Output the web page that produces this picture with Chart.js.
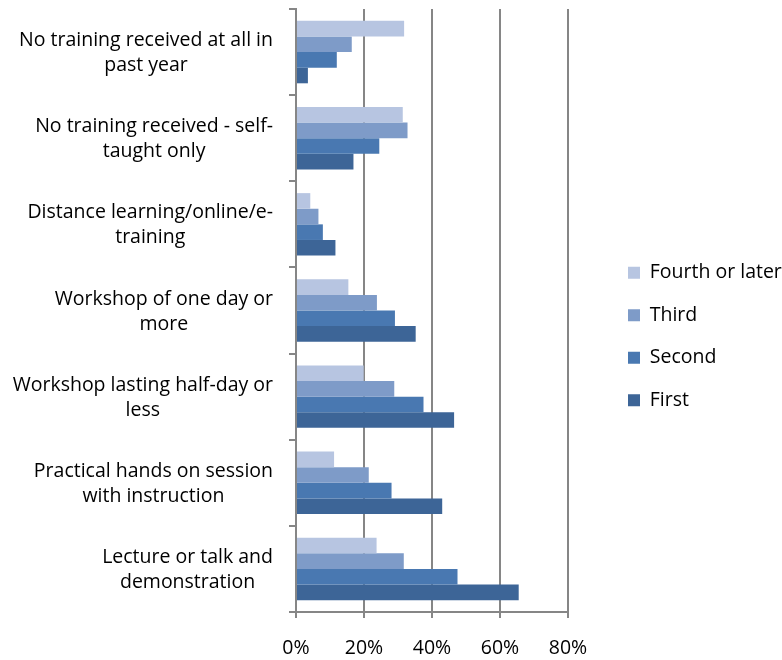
<!DOCTYPE html>
<html>
<head>
<meta charset="utf-8">
<script src="https://cdn.jsdelivr.net/npm/chart.js@4.4.1/dist/chart.umd.min.js"></script>
<style>
  html, body { margin: 0; padding: 0; background: #fff; }
</style>
</head>
<body>
<canvas id="trainingChart" width="782" height="660"></canvas>
<script>
// kategori (dari atas ke bawah)
const categories = [
    ['No training received at all in', 'past year'],
    ['No training received - self-', 'taught only'],
    ['Distance learning/online/e-', 'training'],
    ['Workshop of one day or', 'more'],
    ['Workshop lasting half-day or', 'less'],
    ['Practical hands on session', 'with instruction'],
    ['Lecture or talk and', 'demonstration']
];

// nilai persen per seri
const fourthOrLater = [31.8, 31.4, 4.2, 15.4, 19.9, 11.2, 23.7];
const third = [16.4, 32.8, 6.6, 23.8, 28.9, 21.4, 31.7];
const second = [12.0, 24.5, 7.9, 29.1, 37.5, 28.1, 47.5];
const first = [3.5, 16.9, 11.6, 35.2, 46.5, 43.0, 65.5];

const xTicks = [0, 20, 40, 60, 80];

const fontFamily = '"Open Sans", Lato, sans-serif';
const fontSize = 19.5;
const gridColor = '#868686';
const legendPadding = 23;

// plugin untuk label kategori (baris di tengah, blok rata kanan)
const categoryLabels = {
    id: 'categoryLabels',
    afterLayout(chart) {
        // geser legenda ke kanan seperti aslinya
        const lg = chart.legend;
        const dx = 628 - legendPadding - lg.left;
        lg.left += dx;
        lg.right += dx;
        lg.top += 2;
        lg.bottom += 2;
    },
    afterDraw(chart) {
        const ctx = chart.ctx;
        const yScale = chart.scales.y;
        const lineHeight = 25;
        ctx.save();
        ctx.font = fontSize + 'px ' + fontFamily;
        ctx.fillStyle = '#000';
        ctx.textAlign = 'center';
        ctx.textBaseline = 'middle';
        categories.forEach(function(lines, i) {
            const yc = yScale.getPixelForValue(i) + 1;
            let maxW = 0;
            lines.forEach(function(l) { maxW = Math.max(maxW, ctx.measureText(l).width); });
            const cx = Math.max(273 - maxW / 2, 8 + maxW / 2);
            lines.forEach(function(l, j) {
                ctx.fillText(l, cx, yc - (lines.length - 1) * lineHeight / 2 + j * lineHeight);
            });
        });
        ctx.restore();
    }
};

const data = {
    labels: categories.map(function(c) { return c.join(' '); }),
    datasets: [
        { label: 'Fourth or later', data: fourthOrLater, backgroundColor: '#B7C5E1' },
        { label: 'Third', data: third, backgroundColor: '#7E9BC8' },
        { label: 'Second', data: second, backgroundColor: '#4978B1' },
        { label: 'First', data: first, backgroundColor: '#3D6597' }
    ]
};

const config = {
    type: 'bar',
    data: data,
    options: {
        indexAxis: 'y',
        responsive: false,
        animation: false,
        devicePixelRatio: 1,
        datasets: {
            bar: { categoryPercentage: 0.725, barPercentage: 1.0 }
        },
        layout: { padding: { top: 9, left: 0, right: 0, bottom: 0 } },
        plugins: {
            tooltip: { enabled: false },
            legend: {
                position: 'right',
                align: 'center',
                labels: {
                    boxWidth: 12,
                    boxHeight: 12,
                    padding: legendPadding,
                    color: '#000',
                    font: { family: fontFamily, size: fontSize }
                }
            }
        },
        scales: {
            x: {
                min: 0,
                max: 80,
                afterBuildTicks: function(scale) {
                    scale.ticks = xTicks.map(function(v) { return { value: v }; });
                },
                afterFit: function(scale) {
                    scale.height = 48;
                    scale.paddingRight = 214;
                },
                ticks: {
                    color: '#000',
                    padding: 19,
                    font: { family: fontFamily, size: fontSize },
                    callback: function(v) { return v + '%'; }
                },
                grid: { color: gridColor, lineWidth: 2, tickLength: 6, drawTicks: true },
                border: { color: gridColor, width: 2 }
            },
            y: {
                afterFit: function(scale) { scale.width = 296; },
                ticks: { display: false },
                grid: { offset: true, drawOnChartArea: false, drawTicks: true, tickLength: 7, color: gridColor, lineWidth: 2 },
                border: { color: gridColor, width: 2 }
            }
        }
    },
    plugins: [categoryLabels]
};

const myChart = new Chart(document.getElementById('trainingChart').getContext('2d'), config);
</script>
</body>
</html>
